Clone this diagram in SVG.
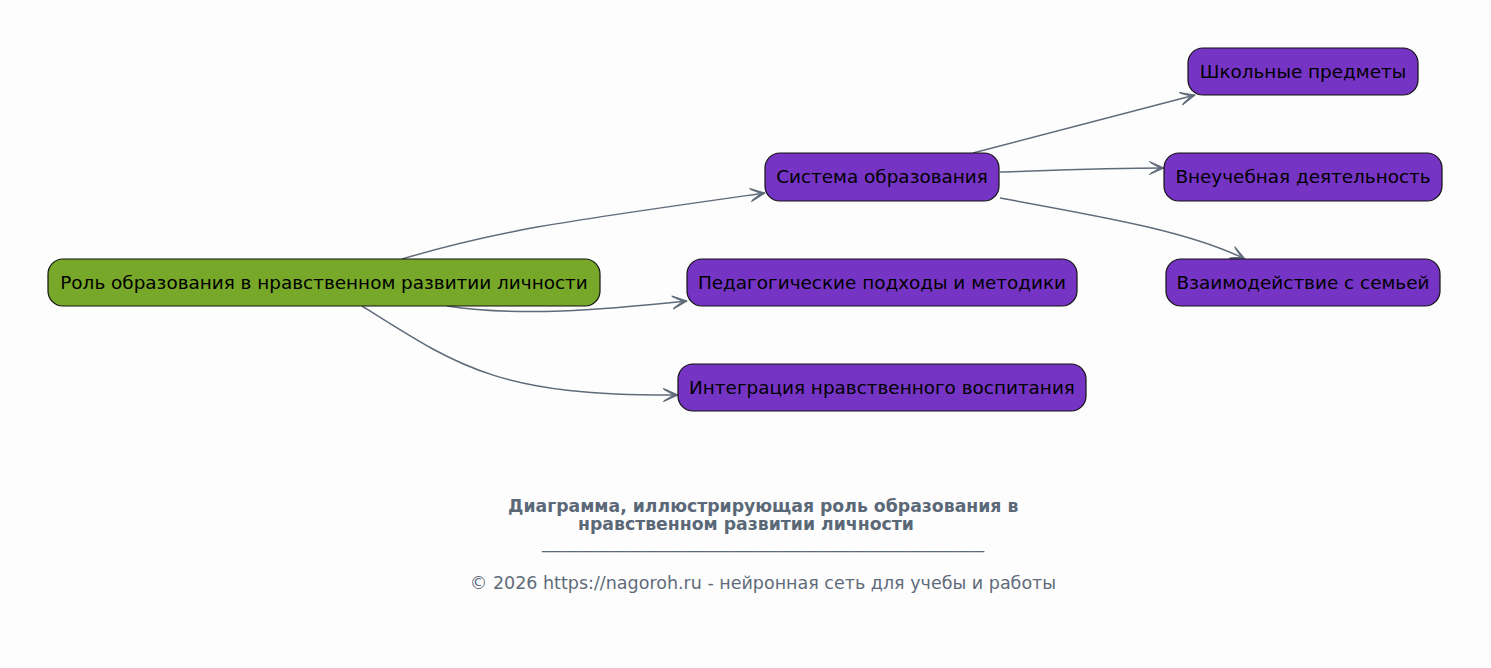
<svg xmlns="http://www.w3.org/2000/svg" width="1491" height="668" viewBox="0 0 1491 668">
<style>
.node rect{stroke:#111;stroke-width:1.2}
.root rect{fill:#78a82a}
.leaf rect{fill:#7634c4}
.node text{font-family:"DejaVu Sans",sans-serif;font-size:18.4px;fill:#000;text-anchor:middle}
.edge{fill:none;stroke:#5f6b7a;stroke-width:1.5}
.title{font-family:"DejaVu Sans",sans-serif;font-size:17.3px;font-weight:bold;fill:#5a6878}
.foot{font-family:"DejaVu Sans",sans-serif;font-size:17.5px;fill:#5f6b7a}
</style>
<defs>
<marker id="arr" viewBox="0 0 16 16" refX="15" refY="8" markerWidth="16" markerHeight="16" markerUnits="userSpaceOnUse" orient="auto">
<path d="M0.5,1.5 L15,8 L0.5,14.5 L2,13 L11,8 L2,3 Z" fill="#5f6b7a" stroke="#5f6b7a" stroke-width="1" stroke-linejoin="round"/>
</marker>
</defs>
<rect width="1491" height="668" fill="#fdfdfd"/>
<g id="connectors">
<path class="edge" marker-end="url(#arr)" d="M402,259 C500,230 560,222 765,193"/>
<path class="edge" marker-end="url(#arr)" d="M447,306 C520,317 600,310 687,301"/>
<path class="edge" marker-end="url(#arr)" d="M362,306 C460,368 500,396 678,395"/>
<path class="edge" marker-end="url(#arr)" d="M973,153 L1195,95"/>
<path class="edge" marker-end="url(#arr)" d="M1000,172 C1060,170 1110,168 1164,168"/>
<path class="edge" marker-end="url(#arr)" d="M1000,198 C1110,218 1190,232 1245,259"/>
</g>
<g id="root" class="node root"><rect x="48" y="259" width="552" height="47" rx="15"/><text x="324" y="289">Роль образования в нравственном развитии личности</text></g>
<g id="sys" class="node leaf"><rect x="765" y="153" width="234" height="48" rx="15"/><text x="882" y="183">Система образования</text></g>
<g id="school" class="node leaf"><rect x="1188" y="48" width="230" height="47" rx="15"/><text x="1303" y="78">Школьные предметы</text></g>
<g id="extra" class="node leaf"><rect x="1164" y="153" width="278" height="48" rx="15"/><text x="1303" y="183">Внеучебная деятельность</text></g>
<g id="family" class="node leaf"><rect x="1166" y="259" width="274" height="47" rx="15"/><text x="1303" y="289">Взаимодействие с семьей</text></g>
<g id="ped" class="node leaf"><rect x="687" y="259" width="390" height="47" rx="15"/><text x="882" y="289">Педагогические подходы и методики</text></g>
<g id="integ" class="node leaf"><rect x="678" y="364" width="408" height="47" rx="15"/><text x="882" y="394">Интеграция нравственного воспитания</text></g>
<text class="title" x="508" y="512">Диаграмма, иллюстрирующая роль образования в</text>
<text class="title" x="578" y="530">нравственном развитии личности</text>
<text class="foot" x="542" y="548" textLength="442" lengthAdjust="spacingAndGlyphs">______________________________________________</text>
<text class="foot" x="763" y="589" text-anchor="middle">© 2026 https://nagoroh.ru - нейронная сеть для учебы и работы</text>
</svg>
